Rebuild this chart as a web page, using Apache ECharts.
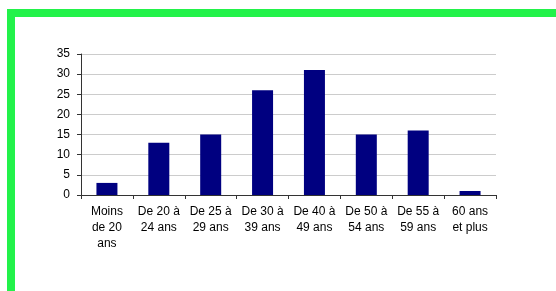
<!DOCTYPE html>
<html><head><meta charset="utf-8">
<script src="https://cdn.jsdelivr.net/npm/echarts@6/dist/echarts.min.js"></script>
<style>html,body{margin:0;padding:0;background:#fff}#c{width:556px;height:291px}</style>
</head><body><div id="c"></div>
<script>
const categories = ["Moins\nde 20\nans","De 20 à\n24 ans","De 25 à\n29 ans","De 30 à\n39 ans","De 40 à\n49 ans","De 50 à\n54 ans","De 55 à\n59 ans","60 ans\net plus"];
const values = [3, 13, 15, 26, 31, 15, 16, 1];
const yTicks = [0, 5, 10, 15, 20, 25, 30, 35];

const chart = echarts.init(document.getElementById('c'), null, {renderer:'canvas'});
chart.setOption({
  animation: false,
  backgroundColor: '#fff',
  graphic: [
    {type:'rect', shape:{x:7, y:9, width:549, height:8}, style:{fill:'#22f24a'}},
    {type:'rect', shape:{x:7, y:9, width:8, height:282}, style:{fill:'#22f24a'}}
  ],
  grid: {left: 81, right: 60, top: 54, bottom: 96, containLabel: false},
  xAxis: {
    type: 'category',
    data: categories,
    axisLine: {lineStyle: {color: '#333', width: 1}},
    axisTick: {show: true, alignWithLabel: false, length: 4, lineStyle: {color: '#333'}},
    axisLabel: {color: '#000', fontFamily: 'Liberation Sans, Arial', fontSize: 12, lineHeight: 16, margin: 9, interval: 0}
  },
  yAxis: {
    type: 'value',
    min: yTicks[0], max: yTicks[yTicks.length-1], interval: 5,
    axisLine: {show: true, lineStyle: {color: '#333', width: 1}},
    axisTick: {show: true, length: 4, lineStyle: {color: '#333'}},
    axisLabel: {color: '#000', fontFamily: 'Liberation Sans, Arial', fontSize: 12, margin: 11},
    splitLine: {show: true, lineStyle: {color: '#cccccc', width: 1}}
  },
  series: [{
    type: 'bar',
    data: values,
    barWidth: 21,
    itemStyle: {color: '#000080'}
  }]
});
</script></body></html>
